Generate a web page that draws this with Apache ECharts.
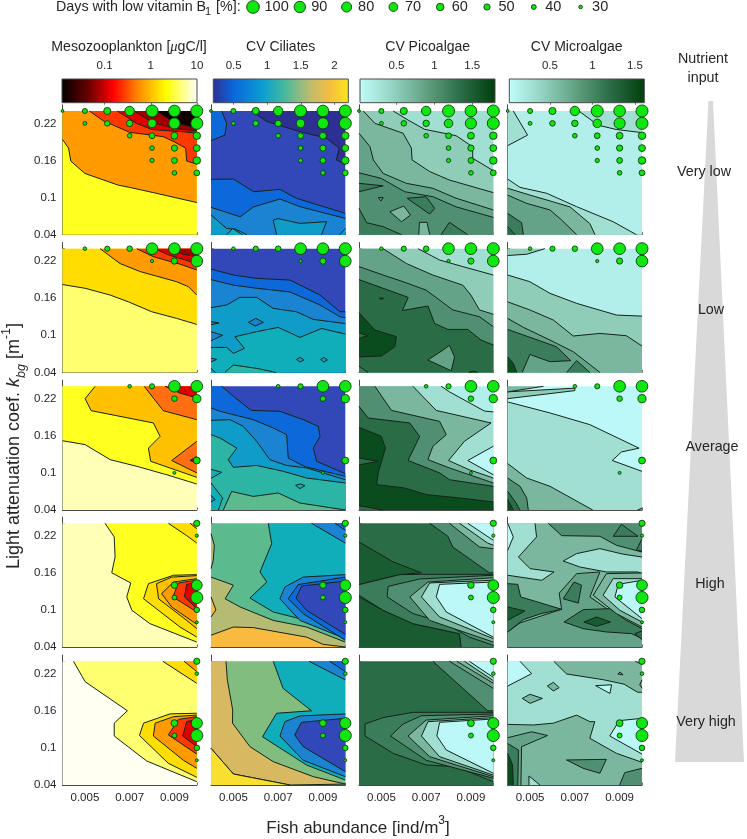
<!DOCTYPE html>
<html><head><meta charset="utf-8">
<script src="https://cdn.jsdelivr.net/npm/echarts@6/dist/echarts.min.js"></script>
<style>html,body{margin:0;padding:0;background:#fff}#c{width:747px;height:839px}</style></head>
<body><div id="c"></div>
<script>
// ---------- DATA ----------
// Contours: [level index, [fish(1e-3), kbg(1e-2), ...]] painted in order.
const whole=[4,4,10,4,10,24,4,24];
const mesoVeryLow=[[3,whole],
[6,[4,19.4,4.27,18,4.37,15.9,5,13.9,6.5,12,7,11.65,8.06,10.8,10,9.2,10,24,4,24]],
[8,[5.2,24,5.83,22.4,7,20.55,8.5,19.85,9,19,9.5,18,9.55,15.9,10,15.4,10,24]],
[9,[6.45,24,7.3,22,8,21,9.5,20.6,10,20.4,10,24]],
[10,[7.2,24,8.06,22.1,9,21.2,10,20.8,10,24]],
[12,[8.2,24,8.7,22.8,9.25,21.9,10,21.2,10,24]]];
const ciliatesVeryLow=[[1,whole],
[2,[4,24,4.48,24,4.7,22,4.62,20.1,4,19.2]],
[0,[5.8,24,6.5,22.3,7.97,20.66,9.16,19.6,9.73,18,9.6,16.1,10,15.3,10,24]],
[2,[4,12.95,5,13,5.9,10.95,7.08,11.33,7.82,9.88,10,7.45,10,4,4,4]],
[3,[4,8.42,5.3,6.9,5.9,8.5,7.08,9.77,8,8.5,10,6.64,10,4,4,4]],
[4,[4,7.2,4.7,5,5.1,4.9,5.6,4,4,4]],
[5,[4.7,4,4.97,5,5.4,4]],
[4,[6.78,6.37,7,6.6,7.97,5.83,9.16,6.1,8.94,4,6.93,4]],
[4,[9.75,4,10,5,10,4]]];
const picoVeryLow=[[2,whole],
[3,[5.53,24,6.19,22.54,6.93,21.04,8.34,20,9.08,18.2,9.08,16.35,10,14.35,10,4,4,4,4,24]],
[4,[4.19,24,4.71,22,5.97,20.4,6.34,18,6.37,16.1,7.16,14.2,8.04,12.84,10,10.8,10,4,4,4,4,24]],
[5,[4,20.4,4.49,18.23,4.64,16.1,5.08,13.9,6.12,12.3,7.3,11.5,8.34,9.9,10,8,10,4,4,4]],
[6,[4,14,5,13.1,6.04,10.95,7.3,10.15,8.34,8.5,10,6.8,10,4,4,4]],
[7,[4,12.3,5.08,11.9,4,10.95]],
[5,[4.86,10,5.08,10,4.98,9.45]],
[7,[6.15,9.88,7,10.15,7.38,8.26,7.16,7.34]],
[4,[5.38,7.72,6,8.63,6.3,7.18,5.9,6.1]],
[7,[4,8.26,4.34,5.94,5.08,5.3,5.9,4,4,4]],
[4,[6.67,4,6.7,6,7.04,6,7.16,4]],
[7,[7.67,4,8.04,6,8.86,4]]];
const microVeryLow=[[1,whole],
[2,[4,24,4.25,24,4.89,20.1,4,18.4]],
[2,[7.18,24,8.04,21.7,8.86,21,10,20.5,10,24]],
[2,[4,13,4.55,11.65,5.74,10.7,7.08,8.53,8.71,6.1,9.75,4,4,4]],
[4,[4,11.5,5,10.4,6.04,9.3,6.78,8.5,7.67,5.8,7.9,4,4,4]],
[5,[4,10.4,4.85,9.06,5.89,8,6.41,6.37,7.08,4,4,4]],
[7,[4,7.45,4.62,5.94,4.7,4,4,4]],
[8,[4,5.3,4.33,4,4,4]]];

const mesoLow=[[2,whole],
[4,[4,18.2,5.01,17.6,6.13,16.5,6.95,15.4,7.99,13.8,9.1,12.73,10,11.76,10,24,4,24]],
[6,[5.68,24,6.57,21.6,7.47,20.3,9.1,18.66,9.63,17.85,10,16.5,10,24]],
[8,[7.32,24,8.06,22.7,9.25,21.5,10,20.55,10,24]],
[9,[8.14,24,8.73,23,10,21.6,10,24]],
[10,[8.73,24,9.4,23.1,10,22.7,10,24]]];
const ciliatesLow=[[1,whole],
[2,[4,20.7,5,19.74,6.04,19.2,7.53,18.93,8.87,16.5,9.76,13.8,10,13.8,10,4,4,4]],
[3,[4,19,5,18.1,6.04,17.6,7.53,17,8.87,14.9,9.76,13,10,12.84,10,4,4,4]],
[4,[4,14.46,4.7,14.9,5.29,16.13,6.04,16.13,6.78,14.35,7.82,13.8,8.57,12.57,10,11.9,10,4,4,4]],
[3,[5.67,12.1,6,12.73,6.34,12.1,5.97,11.5]],
[3,[4,12.2,4.36,12,4,11.7]],
[5,[4,8.04,4.7,8.04,5,7.07,5.49,7.88,5.07,9.77,6.04,10.58,7,11.28,7.97,9.66,8.94,11.1,10,10.2,10,4,4,4]],
[3,[4,10.58,4.52,10,4,9.12]],
[4,[4,6.3,4.25,6.1,4,5.7]],
[4,[7.82,6.1,7.99,6.43,8.15,6,7.97,5.67]],
[4,[8.9,6.1,9.04,6.43,9.2,6,9.04,5.67]],
[4,[4,4.65,4.2,4,4,4]],
[6,[4.62,4,5,5.2,6.04,4.65,6.9,4]]];
const picoLow=[[2,whole],
[3,[6.64,24,7.6,22.17,8.64,21.1,10,19.74,10,4,4,4,4,24]],
[5,[5.08,24,6.12,21.6,7.3,19.74,8.64,18.1,9,16.5,9.38,14.1,10,13.4,10,4,4,4,4,24]],
[6,[4,21.1,5.08,19.74,5.97,18.66,7,17.3,8.19,14.1,9.38,13,10,11.4,10,4,4,4]],
[8,[4,19,6.2,16.13,5.94,14,7.08,14.73,7.38,11.9,7.97,10.95,8.86,10.95,9.45,9.23,10,8.42,10,4,4,4]],
[10,[4.9,16,5.1,16,5,15.8]],
[10,[4,13.65,4.71,10.85,5.67,9.77,5.6,8.15,5,6.64,4,6.5]],
[8,[4,10.4,4.37,9.93,4,9.5]],
[5,[7.08,6,7.75,7.6,8.04,8.37,8.27,6.5,8.12,4.27]],
[7,[4,5,4.4,4,4,4]],
[10,[8.9,4,9.1,4.2,9.3,4]]];
const microLow=[[1,whole],
[3,[4,24,5.66,24,4.85,23.1,4,22.9]],
[3,[4,19.74,4.99,18.66,5.89,16.78,7.08,15.16,8.86,13.27,10,13.1,10,4,4,4]],
[4,[4,15.4,4.99,14.1,6.04,12.46,6.93,9.88,8.12,10.3,9.3,9.93,10,8.26,10,4,4,4]],
[5,[4,12.73,4.7,11.28,5.89,9.23,6.93,7.34,8.12,4,4,4]],
[7,[4,10.95,6.18,8.15,6.82,5.9,5.89,5.73,4.99,6.9,4.65,4,4,4]],
[7,[6.63,4,7.08,5.9,7.67,4]],
[10,[4,6.5,4.25,5.45,4.4,4,4,4]]];

const mesoAverage=[[1,whole],
[3,[4,15.2,5.01,14.57,6.13,12.14,7.32,11.06,8.66,9.7,10,8.2,10,24,4,24]],
[5,[5.46,24,5.01,22,5.28,20.06,8.06,18.07,8.36,15.9,7.84,14,7.94,11.87,10,9.28,10,24]],
[7,[7.65,24,8.5,20.06,10,18.6,10,24]],
[7,[10,15.1,8.88,12,10,10]],
[9,[8.58,24,9.25,22.9,10,22.1,10,24]],
[10,[9.7,12,10,12.68,10,11.6]]];
const ciliatesAverage=[[1,whole],
[2,[4.48,24,5,22.38,5.8,20.1,7.08,19.96,8.12,18.6,8.79,17.53,8.87,15.9,8.57,14,8.72,11.87,10,9.88,10,4,4,4,4,24]],
[3,[4,20.5,4.4,19.96,5.89,18.6,6.78,17.26,7.38,16.18,7.45,12.4,8.2,11,10,9.45,10,4,4,4]],
[4,[4,18.5,4.85,18.6,5.44,17.53,6.04,15.1,6.63,12.14,7.38,11.2,8.27,10.8,10,8.9,10,4,4,4]],
[6,[4,16.18,4.4,15.64,5.15,14,4.77,12.14,5,10.9,6.04,11.2,7.23,10.25,8.27,9.17,10,8.37,10,4,4,4]],
[5,[4,10.58,4.48,10.1,4,9.12]],
[5,[7.78,8,8,8.2,8.2,7.94,7.97,7.45]],
[7,[4.55,4,4.92,7,5.89,6.2,7,6.75,7.97,5.13,10,4]],
[5,[4,8.37,4.52,5.94,4.33,4,4,4]],
[3,[4,6.37,4.18,5.67,4,5.3]]];
const picoAverage=[[1,whole],
[2,[7.67,24,8.04,23.1,9.6,20,10,19.85,10,4,4,4,4,24]],
[4,[6.41,24,7.45,20.1,9.9,18.07,8.71,15.1,8,12,8.93,10.5,10,9.17,10,4,4,4,4,24]],
[0,[10,14.3,8.86,12,10,9.7]],
[6,[4.71,24,5.45,20.1,7.6,18.33,7.9,16.18,7.3,14.3,7.08,12.14,8.04,10.8,10,8.37,10,4,4,4,4,24]],
[8,[4,20.77,4.41,18.87,6.27,18.07,6.71,15.9,6.19,12,7.6,10,8.04,8.9,10,7.83,10,4,4,4]],
[10,[4,17.37,5,15.9,5.18,14,4.86,10,4.79,8.1,6.04,7.56,7,6.5,8.5,5.94,10,5.3,10,4,4,4]],
[8,[4,12.4,4.86,11.87,4,11.3]],
[8,[4,4.7,5.08,4,4,4]]];
const microAverage=[[0,whole],
[3,[4,23.1,7,23.7,7,23.3,4,22]],
[4,[4,24,5.6,24,4,23.1]],
[2,[4,21.47,5.89,19.69,7.67,17.8,9.87,14,9.08,13.38,8.67,12,10,10.25,10,4,4,4]],
[4,[4,11.5,4.85,9.17,5.89,7.83,7.8,4,4,4]],
[4,[9.8,4,10,4.3,10,4]],
[6,[4,9.17,4.55,7.83,4.85,5.94,4.92,4,4,4]],
[8,[4,7,4.33,5.4,4.55,4,4,4]],
[10,[4,5.67,4.25,4,4,4]]];

const mesoHigh=[[1,whole],
[3,[5.9,24,6.31,21.8,6.35,18.55,6.2,16,7.05,14.35,6.87,12.1,7.1,9.93,7.91,7.77,10,4.8,10,24]],
[4,[8.73,24,9.55,22,10,20.8,10,24]],
[6,[9.7,24,10,23.1,10,24]],
[4,[10,15.7,8.96,15.6,7.84,14.24,7.62,11.8,9.25,7.23,10,5.6]],
[5,[10,15.54,8.88,15.3,8.2,14.24,8.29,11.8,9.55,8.3,10,6.96]],
[6,[10,15.05,8.96,14.5,8.43,12.63,8.88,10.47,10,7.67]],
[8,[10,14.8,9.18,14.35,8.93,12.1,10,9.66]],
[9,[10,14.5,9.55,14.13,9.45,12.1,10,10.2]]];
const ciliatesHigh=[[7,whole],
[5,[6.56,24,6.71,20.7,6.19,16.13,6.49,14.5,5.74,11.92,6.78,9.66,8.27,8.3,10,5.6,10,24]],
[3,[8.49,24,10,20.8,10,24]],
[2,[9.54,24,10,22.87,10,24]],
[3,[10,15.7,8.12,15.3,7.3,13.7,7.08,11.8,7.97,8.3,10,5.35]],
[2,[10,15.3,7.9,14.1,7.45,11.8,8.12,9.4,10,5.08]],
[1,[10,14.67,8.05,13.86,7.8,11.9,8.27,9.93,10,6.05]],
[9,[4,15.3,5,14,4.63,11.8,5.3,10.47,6.78,8.3,8.27,7.23,10,4.8,10,4,4,4]],
[11,[4,5.9,5,7.23,5.89,7.13,8.27,5.6,9.01,4.43,10,4,4,4]],
[9,[4,22.33,4.15,20.44,4.1,18,4,16.67]],
[11,[4,12.1,4.22,10,4,8.85]]];
const picoHigh=[[8,whole],
[9,[4,20.98,4.64,19.63,5.53,17.75,6.79,16,5.82,15.7,4,14.08]],
[9,[4,12.1,5.08,9.93,6.41,7.77,8.49,6.15,8.56,4,4,4]],
[6,[7.16,24,7.97,21.9,8.19,20.17,9.82,16,10,16,10,24]],
[4,[8.04,24,9.38,20.17,10,19.9,10,24]],
[2,[8.49,24,9.75,20.8,10,20.44,10,24]],
[0,[8.86,24,10,21.25,10,24]],
[7,[10,15.75,6.79,15.75,5.82,15.7,4,14.08,4,12.36,5.08,9.93,6.41,7.77,8.49,6.15,8.56,4,10,4]],
[6,[10,15.6,6.71,15,5.3,13.8,5.26,12.1,6.41,9.4,7.75,8,8.93,5.6,10,4.27]],
[4,[10,15.2,7.08,14.5,6.27,12.1,7.16,8.3,10,4.8]],
[2,[10,14.8,7.16,14.35,6.79,12.1,7.6,8.85,10,5.35]],
[0,[10,14.5,7.6,14.13,7.45,12.1,7.9,9.66,10,5.6]]];
const microHigh=[[4,whole],
[6,[5.81,24,6.41,22,8.12,21.9,8.86,20.44,10,19.36,10,24]],
[7,[8.71,21.9,9.08,23.84,9.82,21.9]],
[7,[9.75,19.63,10,21.5,10,19.5]],
[2,[4,24,5.22,24,5.29,21.8,4.48,18.55,5,16.67,6.07,16.13,5.52,14.78,4,15.6]],
[0,[4,24,4.25,21.8,4,19.63]],
[2,[6.48,17.9,7.08,19.1,8.12,19.9,9.16,19,10,18.55,10,15.86,9.82,16.13,8.41,16.13,7.22,16.94]],
[5,[7.08,15.86,8.12,16.13,7.67,12.1,8.86,9.1,10,6.96,10,4,4,4,4,6.43,4.55,7.9,6.41,10.1,6.3,12.7]],
[7,[4,14.24,4.45,14.13,4.58,12.1,6.41,10.1,5.49,9.39,4.7,8.42,4,6.43]],
[9,[4,10.47,4.77,9.82,4,8.31]],
[7,[6.48,11.8,6.96,14.5,7.3,14,7.15,11.1]],
[7,[6.52,8.04,7.37,10.04,8.56,10.2,9.3,8.31,10,6.96,10,5.35,9.53,6.16,8.41,6.43,7.37,6.96]],
[9,[7.4,8.04,7.97,8.85,8.59,8.04,7.97,7.34]],
[8,[9.68,6.16,10,6.6,10,5.18]],
[4,[10,15.97,8.41,15.86,7.82,12.36,8.86,9.39,10,7.23]],
[2,[10,15.05,8.71,15.05,8.26,12.36,9.01,9.93,10,8.04]],
[0,[10,14.78,8.94,14.13,8.79,12.1,10,8.58]]];

const mesoVeryHigh=[[0,whole],
[2,[4.49,24,5.01,20.7,6.9,16,6.31,14,6.31,11.92,7.76,7.88,10,4.54,10,24]],
[4,[8.48,24,10,20.44,10,24]],
[6,[9.43,24,10,22.33,10,24]],
[4,[10,15.6,8.81,15.5,7.62,14,7.44,12,8.73,7.5,10,5.24]],
[6,[10,15.3,8.96,15.05,8.14,14,8.06,11.92,9.4,8,10,6.7]],
[8,[10,15.05,9.18,14.6,8.73,12.1,10,9]],
[9,[10,14.67,9.55,14.24,9.37,11.92,10,10.2]]];
const ciliatesVeryHigh=[[8,whole],
[10,[4,24,4.67,24,4.73,21,4.97,16.13,4.96,14,5.74,10.2,6.78,7.77,8.57,5.35,10,4.15,7.53,4,5,5.78,4,9.93]],
[12,[4,9.93,5,5.78,7.53,4,4,4]],
[5,[6.78,24,7.22,19.63,8.49,16,6.93,15.6,6.3,11.8,8.27,7.23,10,4.8,10,24]],
[3,[8.38,24,10,21,10,24]],
[2,[9.3,24,10,22.33,10,24]],
[3,[10,15.5,7.97,15.16,7.3,14.24,7.08,11.92,8.12,8,10,5.35]],
[1,[10,14.78,8.04,14.13,7.74,12.1,8.12,10.2,10,6.16]]];
const picoVeryHigh=[[8,whole],
[6,[7.3,24,9.75,16,10,16,10,24]],
[5,[8.04,24,10,19.63,10,24]],
[4,[8.37,24,10,20.44,10,24]],
[2,[8.71,24,10,20.87,10,24]],
[0,[8.93,24,10,21.4,10,24]],
[7,[10,15.75,6.41,15.75,5.08,14.9,4.27,13.86,4.27,11.92,5.53,9.12,7,7.23,8.34,6.96,10,4.54]],
[6,[10,15.48,6.79,15.2,5.97,13.86,5.41,11.92,7,8,10,5.08]],
[4,[10,15.2,7,14.5,6.19,11.92,7.16,8.58,10,5.35]],
[2,[10,14.9,7.08,14.24,6.79,11.92,7.6,8.58,10,5.6]],
[0,[10,14.67,7.6,14.13,7.48,11.92,7.9,9.66,10,5.9]]];
const microVeryHigh=[[2,whole],
[0,[4,24,4.55,24,5.07,22,4,20]],
[4,[6.06,24,6.63,21.95,8.3,21,9.2,20.3,9.8,19,10,19,10,24]],
[2,[9.7,24,10,23.5,10,24]],
[5,[8.92,21.95,9.03,22.27,9.15,21.8]],
[5,[9.9,20.2,10,21,10,19.63]],
[0,[7.93,20.06,8.64,20.2,8.57,18.8]],
[4,[5.77,20,6.04,20.6,6.3,19.74,6.04,19.2]],
[4,[4.65,18,5,18.66,5.55,18,5,17.2]],
[4,[4,13.8,5.14,13.7,6.04,14,7.08,15.3,7.67,14.24,7.89,14.24,7.67,11.55,8.86,9.12,10,7.67,10,4,4,4]],
[0,[10,14.78,8.98,14.4,8.56,11.92,10,9]],
[5,[4,11.65,5.07,12.6,5.78,12,4.62,10.2,4.59,4,4,4]],
[7,[4,10.7,4.48,9.66,4.45,4,4,4]],
[10,[4,9.12,4.22,7.23,4.25,4,4,4]],
[2,[4.95,5.46,5.44,4,4.95,4]],
[6,[6.63,8.04,8.41,8.15,8.12,5.9,7.37,6.7]],
[6,[9,4,9.23,6,10,6.7,10,4]]];

// Days with low vitamin B1 [%]: [fish(1e-3), kbg(1e-2), percent]
const bubblesVeryLow=[[4,24,24],[5,24,41],[6,24,57],[7,24,75],[8,24,95],[9,24,92],[10,24,95],
[5,22,32],[6,22,45],[7,22,52],[8,22,68],[9,22,88],[10,22,95],
[7,20,38],[8,20,47],[9,20,55],[10,20,60],[8,18,38],[9,18,50],[10,18,55],
[8,16,35],[9,16,47],[10,16,60],[9,14,38],[10,14,47]];
const bubblesLow=[[5,24,30],[6,24,42],[7,24,45],[8,24,92],[9,24,92],[10,24,95],[8,22,27],[9,22,50],[10,22,92]];
const bubblesAverage=[[7,24,30],[8,24,42],[9,24,92],[10,24,92],[9,22,45],[10,22,65],[10,12,55],[9,10,25]];
const bubblesHigh=[[10,24,50],[10,22,27],[9,14,52],[10,14,85],[9,12,40],[10,12,95],[10,10,45],[10,8,25]];
const bubblesVeryHigh=[[10,24,50],[10,22,30],[9,14,55],[10,14,88],[9,12,40],[10,12,95],[10,10,45],[10,8,25]];

const legendValues=[100,90,80,70,60,50,40,30];
const columnTitles=['CV Ciliates','CV Picoalgae','CV Microalgae'];
const rowNames=['Very low','Low','Average','High','Very high'];
const fishTicks=[0.004,0.005,0.006,0.007,0.008,0.009,0.01];
const fishLabels=[0.005,0.007,0.009];
const kbgTicks=[0.04,0.06,0.08,0.1,0.12,0.14,0.16,0.18,0.2,0.22,0.24];
const kbgLabels=[0.04,0.1,0.16,0.22];
const mesoBarTicks=[0.1,1,10];
const ciliatesBarTicks=[0.5,1,1.5,2];
const picoBarTicks=[0.5,1,1.5];
const microBarTicks=[0.5,1,1.5];
const barRanges=[[0.012,10],[0.197,2.208],[0.02,1.8],[0.023,1.61]];

// ---------- STYLE ----------
const FONT='"Liberation Sans",Arial,sans-serif', INK='#262626', AXIS='#4a4a4a';
const mesoPalette=['#fffff2','#ffffb8','#ffff70','#ffff20','#ffdd00','#ffc000','#ff9a00','#ff6e10','#ff3800','#e00000','#a00000','#4a0000','#100000'];
const ciliatesPalette=['#2e2f92','#3348b8','#0d68da','#1a84d2','#0f9cc8','#10adba','#2cb5a4','#5cbb8e','#82bd80','#b5bb72','#d8b860','#f8bb40','#f8df30'];
const greenPalette=['#bdf8f8','#b3efea','#a0dfd2','#8fcdb8','#7ab79e','#65a388','#508f71','#3b7c5a','#2a6c46','#1a5c32','#0a4c1e'];
const palettes=[mesoPalette,ciliatesPalette,greenPalette,greenPalette];
const mesoStops=[[0,'#000'],[.2,'#6a0000'],[.38,'#ff0000'],[.55,'#ff8000'],[.77,'#ffff00'],[1,'#fff']];
const ciliatesStops=[[0,'#2e2f92'],[.15,'#0a66dc'],[.37,'#0a9fd0'],[.52,'#42b8a0'],[.72,'#c0bc6c'],[.86,'#f5bd3e'],[1,'#f8e61e']];
const greenStops=[[0,'#c0fcfc'],[.2,'#9cdccc'],[.5,'#5f9f80'],[.75,'#2a6c46'],[1,'#003e0a']];
const barStops=[mesoStops,ciliatesStops,greenStops,greenStops];
const barTicks=[mesoBarTicks,ciliatesBarTicks,picoBarTicks,microBarTicks];

const contours=[
 [mesoVeryLow,ciliatesVeryLow,picoVeryLow,microVeryLow],
 [mesoLow,ciliatesLow,picoLow,microLow],
 [mesoAverage,ciliatesAverage,picoAverage,microAverage],
 [mesoHigh,ciliatesHigh,picoHigh,microHigh],
 [mesoVeryHigh,ciliatesVeryHigh,picoVeryHigh,microVeryHigh]];
const bubbles=[bubblesVeryLow,bubblesLow,bubblesAverage,bubblesHigh,bubblesVeryHigh];

// ---------- LAYOUT ----------
const colLeft=[62.5,211,359,507.7], colW=134.3;
const rowTop=[104.8,242.5,380.1,517.1,655.1], rowH=129.9;
const barLeft=[62,213.3,360,509.3], barW=135, barTop=79, barH=23.7;
const diam=v=>3.6+(v-30)*0.13;
const bubbleStyle={color:'#10e610',borderColor:'#0a3d0a',borderWidth:0.9,opacity:1};
const lineStyle={fill:null,stroke:'#14241a',lineWidth:1};

const grid=[],xAxis=[],yAxis=[],series=[];
function addGrid(g,x,y){grid.push(g);xAxis.push(Object.assign({gridIndex:grid.length-1},x));yAxis.push(Object.assign({gridIndex:grid.length-1},y));return grid.length-1;}

function onEdge(a,b){return (a[0]===b[0]&&(a[0]===4||a[0]===10))||(a[1]===b[1]&&(a[1]===4||a[1]===24));}
function contourItem(list,palette){
 return function(params,api){
  const [level,flat]=list[params.dataIndex];
  const pts=[];for(let i=0;i<flat.length;i+=2)pts.push([flat[i],flat[i+1]]);
  const px=pts.map(p=>api.coord([p[0]/1000,p[1]/100]));
  const kids=[{type:'polygon',shape:{points:px},style:{fill:palette[level],stroke:null}}];
  const n=pts.length;let run=null;
  let start=0;for(let i=0;i<n;i++){if(onEdge(pts[(i+n-1)%n],pts[i])){start=i;break;}}
  for(let k=0;k<n;k++){
   const i=(start+k)%n,j=(i+1)%n;
   if(onEdge(pts[i],pts[j])){if(run){kids.push({type:'polyline',shape:{points:run},style:lineStyle});run=null;}}
   else{if(!run)run=[px[i]];run.push(px[j]);}
  }
  if(run)kids.push({type:'polyline',shape:{points:run},style:lineStyle});
  return {type:'group',children:kids};
 };
}

contours.forEach((row,r)=>row.forEach((list,c)=>{
 const last=r===4;
 const gi=addGrid({left:colLeft[c],top:rowTop[r],width:colW,height:rowH},
 {type:'value',min:0.004,max:0.01,splitLine:{show:false},
  axisLine:{show:true,onZero:false,lineStyle:{color:AXIS,width:1}},
  axisTick:{show:true,inside:true,length:2.5,customValues:fishTicks,lineStyle:{color:AXIS,width:0.8}},
  axisLabel:{show:last,customValues:fishLabels,margin:7,fontSize:11.5,fontFamily:FONT,color:INK,formatter:v=>v.toFixed(3)}},
 {type:'value',min:0.04,max:0.25,splitLine:{show:false},
  axisLine:{show:true,onZero:false,lineStyle:{color:AXIS,width:1}},
  axisTick:{show:true,inside:true,length:2.5,customValues:kbgTicks,lineStyle:{color:AXIS,width:0.8}},
  axisLabel:{show:c===0,customValues:kbgLabels,margin:6,fontSize:11.5,fontFamily:FONT,color:INK,formatter:v=>String(+v.toFixed(2))}});
 series.push({type:'custom',xAxisIndex:gi,yAxisIndex:gi,silent:true,animation:false,z:2,
  renderItem:contourItem(list,palettes[c]),
  data:list.map(l=>[l[1][0]/1000,l[1][1]/100])});
 series.push({type:'scatter',xAxisIndex:gi,yAxisIndex:gi,silent:true,animation:false,z:5,clip:false,
  data:bubbles[r].map(b=>[b[0]/1000,b[1]/100,b[2]]),
  symbolSize:d=>diam(d[2]),itemStyle:bubbleStyle});
}));

barRanges.forEach((rng,c)=>{
 const gi=addGrid({left:barLeft[c],top:barTop,width:barW,height:barH},
 {type:c===0?'log':'value',logBase:10,min:rng[0],max:rng[1],position:'top',splitLine:{show:false},
  axisLine:{show:false},
  axisTick:{show:true,inside:true,length:2,customValues:barTicks[c],lineStyle:{color:AXIS,width:0.8}},
  axisLabel:{show:true,customValues:barTicks[c],margin:7,fontSize:11.5,fontFamily:FONT,color:INK,formatter:v=>String(+(+v).toFixed(2))}},
 {type:'value',min:0,max:1,show:false});
 const stops=barStops[c].map(s=>({offset:s[0],color:s[1]}));
 series.push({type:'custom',xAxisIndex:gi,yAxisIndex:gi,silent:true,animation:false,z:1,clip:false,
  renderItem:(p,api)=>{const a=api.coord([rng[0],1]),b=api.coord([rng[1],0]);
   return {type:'rect',shape:{x:a[0],y:a[1],width:b[0]-a[0],height:b[1]-a[1]},
    style:{fill:new echarts.graphic.LinearGradient(0,0,1,0,stops),stroke:AXIS,lineWidth:1}};},
  data:[[rng[0],0]]});
});

// size legend
const lg=addGrid({left:253,top:0,width:327.6,height:14},
 {type:'value',min:0,max:7,show:false},{type:'value',min:0,max:1,show:false});
series.push({type:'scatter',xAxisIndex:lg,yAxisIndex:lg,silent:true,animation:false,z:5,clip:false,
 data:legendValues.map((v,i)=>[i,0.5,v]),symbolSize:d=>diam(d[2]),itemStyle:bubbleStyle});
series.push({type:'scatter',xAxisIndex:lg,yAxisIndex:lg,silent:true,animation:false,z:5,clip:false,
 data:legendValues.map((v,i)=>[i,0.5,v]),symbolSize:0,itemStyle:{opacity:1},
 label:{show:true,position:'right',distance:11.5,formatter:p=>String(p.value[2]),fontSize:14.5,fontFamily:FONT,color:INK}});

function T(x,y,text,size,opt){return Object.assign({type:'text',x:x,y:y,z:20,silent:true,
 style:Object.assign({text:text,fontSize:size,fontFamily:FONT,fill:INK,align:'center',verticalAlign:'middle'},opt||{})});}
const mu={fontFamily:'"Liberation Serif",serif',fontStyle:'italic',fontSize:14.5};
const graphic=[
 {type:'polygon',z:0,silent:true,shape:{points:[[708.5,101],[713,101],[744,762],[675,762]]},style:{fill:'#d9d9d9'}},
 T(56,7,'Days with low vitamin B',14.3,{align:'left'}),
 T(205,12,'1',11,{align:'left'}),
 T(216,7,'[%]:',14.3,{align:'left'}),
 {type:'text',x:129,y:47.5,z:20,silent:true,style:{text:'Mesozooplankton [{m|μ}gC/l]',fontSize:14.2,fontFamily:FONT,fill:INK,align:'center',verticalAlign:'middle',rich:{m:mu}}},
 T(280.7,47.5,columnTitles[0],14),T(427.7,47.5,columnTitles[1],14),T(576.7,47.5,columnTitles[2],14),
 T(703,59,'Nutrient',14.3),T(703,78,'input',14.3),
 T(704,172,rowNames[0],14.3),T(711,310,rowNames[1],14.3),T(712,447,rowNames[2],14.3),T(710,584,rowNames[3],14.3),T(706,722,rowNames[4],14.3),
 {type:'text',x:14,y:446,rotation:Math.PI/2,z:20,silent:true,style:{
  text:'{a|Light attenuation coef. }{i|k}{s|bg}{a| [m}{u|-1}{a|]}',fontFamily:FONT,fill:INK,align:'center',verticalAlign:'middle',
  rich:{a:{fontSize:18,fontFamily:FONT,lineHeight:28,verticalAlign:'middle'},i:{fontSize:18,fontFamily:FONT,fontStyle:'italic',lineHeight:28,verticalAlign:'middle'},
   s:{fontSize:12.5,fontFamily:FONT,fontStyle:'italic',lineHeight:28,verticalAlign:'bottom'},u:{fontSize:12.5,fontFamily:FONT,lineHeight:28,verticalAlign:'top'}}}},
 {type:'text',x:358,y:828,z:20,silent:true,style:{
  text:'{a|Fish abundance [ind/m}{u|3}{a|]}',fontFamily:FONT,fill:INK,align:'center',verticalAlign:'middle',
  rich:{a:{fontSize:17,fontFamily:FONT,lineHeight:26,verticalAlign:'middle'},u:{fontSize:12,fontFamily:FONT,lineHeight:26,verticalAlign:'top'}}}}
];

const chart=echarts.init(document.getElementById('c'),null,{renderer:'canvas'});
chart.setOption({animation:false,backgroundColor:'#fff',grid,xAxis,yAxis,series,graphic});
</script></body></html>
